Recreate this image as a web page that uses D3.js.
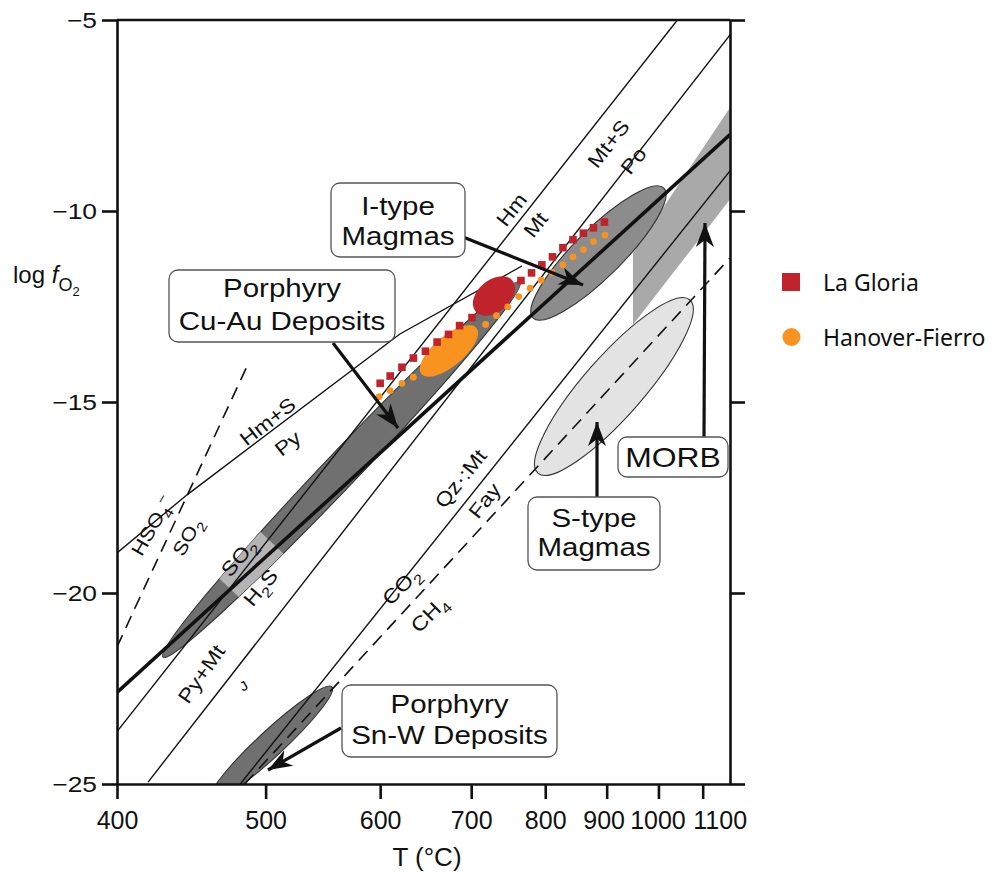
<!DOCTYPE html>
<html>
<head>
<meta charset="utf-8">
<script src="https://cdn.jsdelivr.net/npm/d3@7"></script>
<style>
  body { margin: 0; background: #fff; }
  svg { display: block; }
  text { font-family: "Liberation Sans", Arial, sans-serif; fill: #111; }
</style>
</head>
<body>
<svg id="chart"></svg>
<script>
const width = 1003;
const height = 872;

// axes
const xTicks = [400, 500, 600, 700, 800, 900, 1000, 1100];
const yTicks = [-5, -10, -15, -20, -25];

// sample series (T in °C, log fO2)
const gloriaT = [600, 610, 622, 634, 647, 660, 673, 686, 701, 765, 780, 795, 811, 827, 843, 860, 877, 896];
const gloriaF = [-14.51, -14.32, -14.09, -13.85, -13.67, -13.43, -13.23, -13.0, -12.79, -11.82, -11.62, -11.41, -11.2, -10.96, -10.75, -10.58, -10.44, -10.29];
const hanoverT = [599, 610, 622, 634, 718, 732, 747, 762, 778, 794, 810, 827, 843, 860, 877, 897];
const hanoverF = [-14.86, -14.7, -14.51, -14.35, -12.97, -12.74, -12.51, -12.24, -12.02, -11.81, -11.61, -11.41, -11.2, -11.01, -10.8, -10.63];

// sample fields, major axis end points [T, log fO2]
const gloriaField = [[705.4, -12.63], [753.2, -11.82]];
const hanoverField = [[642.6, -14.27], [706.6, -13.06]];

// deposit and magma fields, major axis end points
const cuAuField = [[428.1, -21.68], [763.6, -11.86]];
const iTypeField = [[782.0, -12.8], [1011.6, -9.4]];
const sTypeField = [[789.2, -16.86], [1069.6, -12.33]];
const snWField = [[459.3, -25.42], [554.9, -22.46]];
const morbField = [[948.7, -11.1], [1169.7, -7.3], [1169.7, -9.7], [948.7, -12.98]];

// buffer and reaction lines
const hmMt = [[400, -23.63], [1041, -5]];
const so2H2s = [[400, -22.6], [1170, -8.0]];
const mtPo = [[418.7, -24.95], [1170, -5.39]];
const hmPy = [[400, -18.95], [443.7, -17.43], [619.9, -13.22], [766.5, -11.44]];
const hso4So2 = [[400, -21.41], [486.6, -14.01]];
const qzMtFay = [[480.9, -25], [1170, -8.95]];
const co2Ch4 = [[484.2, -25], [1170, -11.23]];

const plot = { left: 117, right: 730, top: 20, bottom: 784 };

const svg = d3.select("#chart").attr("width", width).attr("height", height);

const inv = t => 1000 / (t + 273.15);
const xs = d3.scaleLinear().domain([inv(400), inv(1170)]).range([plot.left, plot.right]);
const x = t => xs(inv(t));
const y = d3.scaleLinear().domain([-25, -5]).range([plot.bottom, plot.top]);

const defs = svg.append("defs");
defs.append("clipPath").attr("id", "plotclip")
  .append("rect").attr("x", plot.left).attr("y", plot.top)
  .attr("width", plot.right - plot.left).attr("height", plot.bottom - plot.top);

const g = svg.append("g").attr("clip-path", "url(#plotclip)");

function ellipse(parent, ends, b, fill, stroke) {
  const [x1, y1] = [x(ends[0][0]), y(ends[0][1])];
  const [x2, y2] = [x(ends[1][0]), y(ends[1][1])];
  const a = Math.hypot(x2 - x1, y2 - y1) / 2;
  const ang = Math.atan2(y2 - y1, x2 - x1) * 180 / Math.PI;
  return parent.append("ellipse")
    .attr("cx", 0).attr("cy", 0).attr("rx", a).attr("ry", b)
    .attr("transform", `translate(${(x1 + x2) / 2},${(y1 + y2) / 2}) rotate(${ang})`)
    .attr("fill", fill)
    .attr("stroke", stroke || "none").attr("stroke-width", 1.1);
}

// MORB band
g.append("path")
  .attr("d", d3.line().x(d => x(d[0])).y(d => y(d[1]))(morbField) + "Z")
  .attr("fill", "#a9a9a9");

// S-type and I-type
ellipse(g, sTypeField, 30, "#e3e3e3", "#333");
ellipse(g, iTypeField, 24, "#8c8c8c", "#333");

// porphyry Cu-Au with SO2/H2S band
ellipse(g, cuAuField, 17, "#707070", "#333");
{
  const clip = defs.append("clipPath").attr("id", "cuauclip");
  ellipse(clip, cuAuField, 17, "#000");
  const [x1, y1] = [x(cuAuField[0][0]), y(cuAuField[0][1])];
  const [x2, y2] = [x(cuAuField[1][0]), y(cuAuField[1][1])];
  const ux = x2 - x1, uy = y2 - y1, L = Math.hypot(ux, uy);
  const nx = -uy / L * 40, ny = ux / L * 40;
  const p = f => [x1 + ux * f, y1 + uy * f];
  const a = p(0.185), b = p(0.305);
  g.append("path")
    .attr("clip-path", "url(#cuauclip)")
    .attr("d", `M${a[0] + nx},${a[1] + ny}L${b[0] + nx},${b[1] + ny}L${b[0] - nx},${b[1] - ny}L${a[0] - nx},${a[1] - ny}Z`)
    .attr("fill", "#b4b4b4");
}

// porphyry Sn-W
ellipse(g, snWField, 13, "#707070", "#333");

// lines
const line = d3.line().x(d => x(d[0])).y(d => y(d[1]));
const lines = [
  { d: hmMt, w: 1.4 },
  { d: mtPo, w: 1.4 },
  { d: hmPy, w: 1.4 },
  { d: hso4So2, w: 1.6, dash: "13,8" },
  { d: qzMtFay, w: 1.4 },
  { d: co2Ch4, w: 1.6, dash: "13,8" },
  { d: so2H2s, w: 3.6 }
];
g.selectAll("path.buffer").data(lines).join("path")
  .attr("class", "buffer")
  .attr("d", d => line(d.d))
  .attr("fill", "none").attr("stroke", "#111")
  .attr("stroke-width", d => d.w)
  .attr("stroke-dasharray", d => d.dash || null);

// sample fields
ellipse(g, gloriaField, 16, "#c1232d");
ellipse(g, hanoverField, 15, "#f7931e");

// sample points
g.selectAll("rect.gloria").data(gloriaT).join("rect")
  .attr("class", "gloria")
  .attr("x", d => x(d) - 3.8).attr("y", (d, i) => y(gloriaF[i]) - 3.8)
  .attr("width", 7.6).attr("height", 7.6)
  .attr("fill", "#c1232d");
g.selectAll("circle.hanover").data(hanoverT).join("circle")
  .attr("class", "hanover")
  .attr("cx", d => x(d)).attr("cy", (d, i) => y(hanoverF[i]))
  .attr("r", 3.4)
  .attr("fill", "#f7931e");

// axes
const axisStyle = sel => {
  sel.select(".domain").attr("stroke", "#111").attr("stroke-width", 2.6);
  sel.selectAll(".tick line").attr("stroke", "#111").attr("stroke-width", 2.6);
};

svg.append("line")
  .attr("x1", plot.left).attr("x2", plot.right)
  .attr("y1", plot.top).attr("y2", plot.top)
  .attr("stroke", "#111").attr("stroke-width", 2.6);

// labels of the crowded high-temperature ticks sit slightly apart
const xLabelShift = [0, 0, 0, 0, 0, -3, -1, 17];
svg.append("g")
  .attr("transform", `translate(0,${plot.bottom})`)
  .call(d3.axisBottom(xs).tickValues(xTicks.map(inv)).tickFormat((d, i) => xTicks[i])
    .tickSize(15).tickPadding(12).tickSizeOuter(0))
  .call(axisStyle)
  .call(s => s.selectAll("text").style("font-size", "25px").attr("fill", "#111")
    .attr("dx", (d, i) => xLabelShift[i])
    .style("font-family", "'Liberation Sans', Arial, sans-serif"));

svg.append("g")
  .attr("transform", `translate(${plot.left},0)`)
  .call(d3.axisLeft(y).tickValues(yTicks).tickFormat(d => "\u2212" + Math.abs(d))
    .tickSize(15).tickSizeOuter(0))
  .call(axisStyle)
  .call(s => s.selectAll("text").attr("x", 0)
    .attr("transform", "translate(-20,0) scale(1.2,1)")
    .style("font-size", "22px").attr("fill", "#111")
    .style("font-family", "'Liberation Sans', Arial, sans-serif"));

svg.append("g")
  .attr("transform", `translate(${plot.right},0)`)
  .call(d3.axisRight(y).tickValues(yTicks).tickFormat("").tickSize(15).tickSizeOuter(0))
  .call(axisStyle);

// rich text helper: parts [text, kind]
function rich(t, parts, size) {
  let shift = 0;
  parts.forEach(([s, k]) => {
    const ts = t.append("tspan").text(s);
    let target = 0;
    if (k === "sub") target = size * 0.3;
    if (k === "sup") target = -size * 0.38;
    if (k === "sub" || k === "sup") ts.style("font-size", (size * 0.72) + "px");
    if (k === "it") ts.style("font-style", "italic");
    if (target !== shift) { ts.attr("dy", target - shift); shift = target; }
  });
  return t;
}

function label(px, py, rot, parts, size, sx) {
  const t = svg.append("text")
    .attr("transform", `translate(${px},${py}) rotate(${rot}) scale(${sx || 1.15},1)`)
    .attr("text-anchor", "middle")
    .style("font-size", size + "px");
  return rich(t, typeof parts === "string" ? [[parts, ""]] : parts, size);
}

// line labels
const lr = -52;
label(517, 214, lr, "Hm", 20);
label(541, 229, lr, "Mt", 20);
label(614, 148, lr, "Mt+S", 20);
label(639, 165, lr, "Po", 20);
label(272, 427, -38, "Hm+S", 20);
label(292, 449, -38, "Py", 20);
label(158, 529, -60, [["HSO", ""], ["4", "sub"], ["\u2212", "sup"]], 19);
label(193, 540, -60, [["SO", ""], ["2", "sub"]], 19);
label(244, 562, -50, [["SO", ""], ["2", "sub"]], 20);
label(266, 592, -50, [["H", ""], ["2", "sub"], ["S", ""]], 20);
label(207, 678, -55, "Py+Mt", 20);
label(246, 690, -30, "J", 13);
label(466, 483, -51, "Qz\u00b7:Mt", 20);
label(490, 505, -51, "Fay", 20);
label(406, 591, -45, [["CO", ""], ["2", "sub"]], 20);
label(434, 619, -45, [["CH", ""], ["4", "sub"]], 20);

// callout arrows
defs.append("marker").attr("id", "head")
  .attr("viewBox", "-24 -10 26 20").attr("refX", 0).attr("refY", 0)
  .attr("markerWidth", 26).attr("markerHeight", 20)
  .attr("markerUnits", "userSpaceOnUse").attr("orient", "auto")
  .append("path").attr("d", "M0,0L-24,-9L-17,0L-24,9Z").attr("fill", "#111");

const arrows = [
  [[463, 237], [583, 285]],
  [[333, 343], [398, 428]],
  [[341, 728], [268, 770]],
  [[597, 497], [597, 422]],
  [[704, 437], [705, 223]]
];
svg.selectAll("line.arrow").data(arrows).join("line")
  .attr("class", "arrow")
  .attr("x1", d => d[0][0]).attr("y1", d => d[0][1])
  .attr("x2", d => d[1][0]).attr("y2", d => d[1][1])
  .attr("stroke", "#111").attr("stroke-width", 3.2)
  .attr("marker-end", "url(#head)");

// callout boxes
const boxes = [
  { x0: 169, y0: 270, x1: 395, y1: 342, lines: ["Porphyry", "Cu-Au Deposits"], base: [297, 330] },
  { x0: 331, y0: 183, x1: 465, y1: 257, lines: ["I-type", "Magmas"], base: [215, 245] },
  { x0: 528, y0: 497, x1: 660, y1: 570, lines: ["S-type", "Magmas"], base: [527, 556] },
  { x0: 618, y0: 437, x1: 728, y1: 477, lines: ["MORB"], base: [467], size: 27 },
  { x0: 342, y0: 685, x1: 557, y1: 757, lines: ["Porphyry", "Sn-W Deposits"], base: [713, 744] }
];
boxes.forEach(b => {
  svg.append("rect")
    .attr("x", b.x0).attr("y", b.y0).attr("width", b.x1 - b.x0).attr("height", b.y1 - b.y0)
    .attr("rx", 9).attr("fill", "#fff").attr("stroke", "#555").attr("stroke-width", 1.3);
  b.lines.forEach((s, i) => {
    svg.append("text")
      .attr("transform", `translate(${(b.x0 + b.x1) / 2},${b.base[i]}) scale(1.18,1)`)
      .attr("text-anchor", "middle")
      .style("font-size", (b.size || 25) + "px")
      .text(s);
  });
});

// axis titles
const yTitle = svg.append("text").attr("x", 13).attr("y", 283).style("font-size", "24px");
yTitle.append("tspan").text("log ");
yTitle.append("tspan").style("font-style", "italic").text("f");
yTitle.append("tspan").attr("dy", 8).style("font-size", "18px").text("O");
yTitle.append("tspan").attr("dy", 5).style("font-size", "13px").text("2");

svg.append("text").attr("x", 427).attr("y", 866).attr("text-anchor", "middle")
  .style("font-size", "26px").text("T (\u00b0C)");

// legend
const legend = svg.append("g");
legend.append("rect").attr("x", 782).attr("y", 273).attr("width", 18).attr("height", 18).attr("fill", "#c1232d");
legend.append("circle").attr("cx", 791.5).attr("cy", 337).attr("r", 9).attr("fill", "#f7931e");
legend.append("text").attr("x", 823).attr("y", 291).style("font-size", "23px")
  .style("font-family", "'Noto Sans', sans-serif").text("La Gloria");
legend.append("text").attr("x", 823).attr("y", 346).style("font-size", "23px")
  .style("font-family", "'Noto Sans', sans-serif").text("Hanover-Fierro");
</script>
</body>
</html>
